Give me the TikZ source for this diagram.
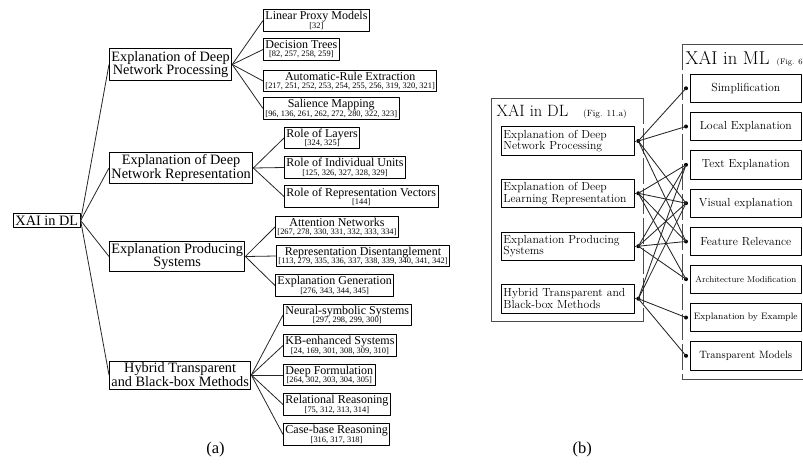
\documentclass[tikz,border=0pt]{standalone}
\usepackage{fontspec}
\newfontfamily\timesfont{Liberation Serif}
% font shortcuts
\newcommand\fTop{\timesfont\fontsize{14.3}{12.3}\selectfont}
\newcommand\fLeaf{\timesfont\fontsize{12}{8.3}\selectfont}
\newcommand\fCite{\timesfont\fontsize{8.4}{8.3}\selectfont}
\newcommand\fPanel{\timesfont\fontsize{16.5}{18}\selectfont}
\newcommand\fBox{\fontsize{11.7}{11.7}\selectfont}
% two-line leaf: title over reference list
\newcommand\leaftext[2]{\vbox{\baselineskip=8.3pt\lineskiplimit=-20pt\lineskip=0pt
  \halign{\hfil##\hfil\cr\fLeaf #1\cr\fCite #2\cr}}}
\tikzset{
  topbox/.style={draw, line width=0.9pt, inner xsep=2pt, inner ysep=2pt,
    align=center, font=\fTop, anchor=west},
  leafbox/.style={draw, line width=0.9pt, inner xsep=2pt, inner ysep=1.8pt, anchor=west},
  treeline/.style={line width=0.8pt, black!85},
  dlbox/.style={draw, line width=0.9pt, anchor=west, minimum height=28.5pt,
    text width=129pt, inner xsep=2.3pt, inner ysep=0pt, align=left, font=\fBox},
  mlbox/.style={draw, line width=0.9pt, anchor=west, minimum width=110.7pt,
    minimum height=28.5pt, inner sep=0pt, font=\fBox},
  frame/.style={line width=0.9pt, black!70},
  longdash/.style={dash pattern=on 26pt off 4pt},
  link/.style={line width=0.85pt, black!85},
  dot/.style={circle, fill=black, inner sep=0pt, minimum size=4pt}
}
\begin{document}
\begin{tikzpicture}[x=1pt,y=-1pt,line join=round]
\useasboundingbox (0,0) rectangle (803,471);

% ---------------- (a) tree ----------------
\node[topbox] (root) at (13,220.5) {XAI in DL};

\node[topbox] (p1) at (109,64.5) {Explanation of Deep\\Network Processing};
\node[topbox] (p2) at (109,168) {Explanation of Deep\\Network Representation};
\node[topbox] (p3) at (109,256.5) {Explanation Producing\\Systems};
\node[topbox] (p4) at (109,375) {Hybrid Transparent\\and Black-box Methods};

\foreach \p in {p1,p2,p3,p4} \draw[treeline] (root.east) -- (\p.west);

% processing
\node[leafbox] (l11) at (263,20.5) {\leaftext{Linear Proxy Models}{[32]}};
\node[leafbox] (l12) at (263,49.5) {\leaftext{Decision Trees}{[82, 257, 258, 259]}};
\node[leafbox] (l13) at (263,81) {\leaftext{Automatic-Rule Extraction}{[217, 251, 252, 253, 254, 255, 256, 319, 320, 321]}};
\node[leafbox] (l14) at (263,108.5) {\leaftext{Salience Mapping}{[96, 136, 261, 262, 272, 280, 322, 323]}};
% representation
\node[leafbox] (l21) at (284,138) {\leaftext{Role of Layers}{[324, 325]}};
\node[leafbox] (l22) at (284,167.5) {\leaftext{Role of Individual Units}{[125, 326, 327, 328, 329]}};
\node[leafbox] (l23) at (284,196.5) {\leaftext{Role of Representation Vectors}{[144]}};
% producing systems
\node[leafbox] (l31) at (275,227) {\leaftext{Attention Networks}{[267, 278, 330, 331, 332, 333, 334]}};
\node[leafbox] (l32) at (276,256) {\leaftext{Representation Disentanglement}{[113, 279, 335, 336, 337, 338, 339, 340, 341, 342]}};
\node[leafbox] (l33) at (275,285.5) {\leaftext{Explanation Generation}{[276, 343, 344, 345]}};
% hybrid
\node[leafbox] (l41) at (283,315) {\leaftext{Neural-symbolic Systems}{[297, 298, 299, 300]}};
\node[leafbox] (l42) at (283,345.5) {\leaftext{KB-enhanced Systems}{[24, 169, 301, 308, 309, 310]}};
\node[leafbox] (l43) at (283,375) {\leaftext{Deep Formulation}{[264, 302, 303, 304, 305]}};
\node[leafbox] (l44) at (283,404.5) {\leaftext{Relational Reasoning}{[75, 312, 313, 314]}};
\node[leafbox] (l45) at (283,434.5) {\leaftext{Case-base Reasoning}{[316, 317, 318]}};

\foreach \c in {l11,l12,l13,l14} \draw[treeline] (p1.east) -- (\c.west);
\foreach \c in {l21,l22,l23} \draw[treeline] (p2.east) -- (\c.west);
\foreach \c in {l31,l32,l33} \draw[treeline] (p3.east) -- (\c.west);
\foreach \c in {l41,l42,l43,l44,l45} \draw[treeline] (p4.east) -- (\c.west);

\node[font=\fPanel] (capa) at (215.5,449.5) {(a)};

% ---------------- (b) mapping ----------------
% DL frame
\draw[frame] (643.3,98.3) -- (491,98.3) -- (491,321.7) -- (643.3,321.7);
\draw[frame,longdash] (643.3,98.3) -- (643.3,321.7);
\node[anchor=base west, inner sep=0pt, font=\fontsize{16.4}{18}\selectfont] (dlt) at (496.5,116) {XAI in DL};
\node[anchor=base west, inner sep=0pt, font=\fontsize{9}{10}\selectfont] (dlf) at (583,116) {(Fig. 11.a)};

\node[dlbox] (d1) at (500.7,141) {Explanation of Deep\\Network Processing};
\node[dlbox] (d2) at (500.7,193.3) {Explanation of Deep\\Learning Representation};
\node[dlbox] (d3) at (500.7,246.2) {Explanation Producing\\Systems};
\node[dlbox] (d4) at (500.7,298.7) {Hybrid Transparent and\\Black-box Methods};

% ML frame (runs on past the right edge of the page)
\draw[frame] (682,44.3) -- (815,44.3);
\draw[frame] (682,379.3) -- (815,379.3);
\draw[frame,longdash] (682,44.3) -- (682,379.3);
\node[anchor=base west, inner sep=0pt, font=\fontsize{18.6}{20}\selectfont] (mlt) at (685.5,64.3) {XAI in ML};
\node[anchor=base west, inner sep=0pt, font=\fontsize{8}{10}\selectfont] (mlf) at (776.5,64.3) {(Fig. 6};

\node[mlbox] (m1) at (690,88.3) {Simplification};
\node[mlbox] (m2) at (690,126.5) {Local Explanation};
\node[mlbox] (m3) at (690,164.8) {Text Explanation};
\node[mlbox] (m4) at (690,203.2) {Visual explanation};
\node[mlbox] (m5) at (690,241.5) {Feature Relevance};
\node[mlbox, font=\fontsize{8.7}{10}\selectfont] (m6) at (690,279.2) {Architecture Modification};
\node[mlbox, font=\fontsize{9.3}{10}\selectfont] (m7) at (690,317.5) {Explanation by Example};
\node[mlbox, font=\fontsize{10.6}{11}\selectfont] (m8) at (690,355.8) {Transparent Models};

% connection dots
\foreach \i/\y in {1/141,2/193.3,3/246.2,4/298.7} {
  \node[dot] (a\i) at (638.3,\y) {};
  \draw[link] (d\i.east) -- (a\i);
}
\foreach \i/\y in {1/88.3,2/126.5,3/164.8,4/203.2,5/241.5,6/279.2,7/317.5,8/355.8} {
  \node[dot] (b\i) at (686,\y) {};
}

% links between the two taxonomies
\foreach \s/\t in {a1/b1,a1/b2,a1/b4,a1/b5,
                   a2/b3,a2/b4,a2/b5,a2/b6,
                   a3/b3,a3/b4,a3/b5,a3/b6,
                   a4/b3,a4/b4,a4/b7,a4/b8}
  \draw[link] (\s.center) -- (\t.center);

\node[font=\fPanel] (capb) at (582.3,449.5) {(b)};
\end{tikzpicture}
\end{document}
